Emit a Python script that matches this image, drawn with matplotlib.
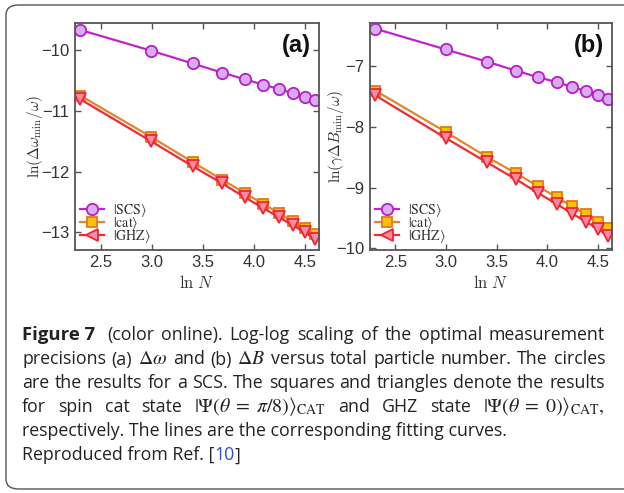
import re
import matplotlib
matplotlib.use("Agg")
import matplotlib.pyplot as plt
from matplotlib.lines import Line2D
from matplotlib.patches import FancyBboxPatch

# ---- data ----
lnN = [2.303, 2.996, 3.401, 3.689, 3.912, 4.094, 4.248, 4.382, 4.500, 4.605]
x_ticks = [2.5, 3.0, 3.5, 4.0, 4.5]

a_scs = [-9.67, -10.01, -10.22, -10.37, -10.48, -10.57, -10.64, -10.71, -10.77, -10.82]
a_cat = [-10.75, -11.43, -11.84, -12.13, -12.35, -12.53, -12.68, -12.81, -12.93, -13.03]
a_ghz = [-10.81, -11.50, -11.91, -12.19, -12.42, -12.60, -12.75, -12.88, -13.00, -13.10]
a_yticks = [-10, -11, -12, -13]

b_scs = [-6.38, -6.72, -6.92, -7.07, -7.18, -7.26, -7.34, -7.41, -7.47, -7.53]
b_cat = [-7.40, -8.08, -8.49, -8.76, -8.98, -9.16, -9.31, -9.44, -9.56, -9.67]
b_ghz = [-7.48, -8.18, -8.58, -8.86, -9.09, -9.27, -9.43, -9.56, -9.68, -9.80]
b_yticks = [-7, -8, -9, -10]

labels = [r'$|\mathrm{SCS}\rangle$', r'$|\mathrm{cat}\rangle$', r'$|\mathrm{GHZ}\rangle$']

caption_lines = [
    '(color online). Log-log scaling of the optimal measurement',
    r'precisions (a) $\Delta\omega$ and (b) $\Delta B$ versus total particle number. The circles',
    'are the results for a SCS. The squares and triangles denote the results',
    r'for spin cat state $|\Psi(\theta\;=\;\pi/8)\rangle_{\mathrm{CAT}}$ and GHZ state $|\Psi(\theta\;=\;0)\rangle_{\mathrm{CAT}},$',
    'respectively. The lines are the corresponding fitting curves.',
]

plt.rcParams['mathtext.fontset'] = 'cm'

W, H = 624, 493
fig = plt.figure(figsize=(W / 100, H / 100), dpi=100)

# outer rounded box
box = FancyBboxPatch((6 / W, 4 / H), 640 / W, 484 / H,
                     boxstyle="round,pad=0,rounding_size=0.02",
                     transform=fig.transFigure, fill=False,
                     edgecolor='#555555', linewidth=1.0, clip_on=False)
fig.patches.append(box)

styles = [
    dict(color='#c024cc', marker='o', mfc='#d9abf2', mec='#b51fc6', ms=8.2),
    dict(color='#e3862a', marker='s', mfc='#f7c10a', mec='#e07a1c', ms=7.2),
    dict(color='#f22a35', marker='v', mfc='#f78aa6', mec='#ef2530', ms=8.2),
]


def panel(rect, ys, yticks, ylim, ylabel, tag, ylab_off):
    ax = fig.add_axes(rect)
    for y, st in zip(ys, styles):
        ax.plot(lnN, y, lw=1.6, markeredgewidth=1.3, **st)
    ax.set_xlim(2.25, 4.64)
    ax.set_ylim(*ylim)
    ax.set_xticks(x_ticks)
    ax.set_xticklabels([f"{t:.1f}" for t in x_ticks])
    ax.set_yticks(yticks)
    ax.set_yticklabels([f"\u2212{abs(t)}" for t in yticks])
    ax.tick_params(direction='in', top=True, right=True, length=4, width=1,
                   color='#555555', labelsize=12, labelcolor='#333333', pad=4)
    for s in ax.spines.values():
        s.set_color('#555555')
        s.set_linewidth(1.3)
    for lab in ax.get_xticklabels() + ax.get_yticklabels():
        lab.set_family('Liberation Sans')
    ax.set_xlabel(r'$\mathrm{ln}\ N$', fontsize=12, color='#333333', labelpad=3)
    ax.set_ylabel(ylabel, fontsize=11, color='#333333', va='center')
    ax.yaxis.set_label_coords(-ylab_off / (rect[2] * W), 0.5)
    ax.text(0.965, 0.95, tag, transform=ax.transAxes, ha='right', va='top',
            fontsize=17, fontweight='bold', family='Liberation Sans', color='#111111')
    handles = []
    for st, lab in zip(styles, labels):
        s2 = dict(st)
        if s2['marker'] == 'v':
            s2['marker'] = '<'
        handles.append(Line2D([], [], lw=1.6, markeredgewidth=1.3, label=lab, **s2))
    leg = ax.legend(handles=handles, loc='lower left', frameon=False, fontsize=10,
                    handlelength=1.75, handletextpad=0.65, labelspacing=-0.3,
                    borderaxespad=0.15, borderpad=0.2)
    for t in leg.get_texts():
        t.set_math_fontfamily('stix')
        t.set_color('#333333')
    return ax


top_px, bot_px = 22.7, 249.5
panel([75 / W, (H - bot_px) / H, 244 / W, (bot_px - top_px) / H],
      [a_scs, a_cat, a_ghz], a_yticks, (-13.28, -9.55),
      r'$\mathrm{ln}(\Delta\omega_{\mathrm{min}}/\omega)$', '(a)', 40)
panel([370 / W, (H - bot_px) / H, 242 / W, (bot_px - top_px) / H],
      [b_scs, b_cat, b_ghz], b_yticks, (-10.02, -6.28),
      r'$\mathrm{ln}(\gamma\Delta B_{\mathrm{min}}/\omega)$', '(b)', 34)

# ---- caption ----
cap_font = 'Open Sans'
col = '#222222'
baselines = [340, 364.5, 388.5, 412.5, 436.5, 460.5]
x_left, x_right = 22, 605

fig.canvas.draw()
r = fig.canvas.get_renderer()

# font size so that line 5 matches the reference width
probe = fig.text(0, 0, caption_lines[4], fontsize=10, family=cap_font)
pw = probe.get_window_extent(r).width
probe.remove()
fs = 10 * 484 / pw
probe = fig.text(0, 0, 'Figure 7', fontsize=10, family=cap_font, fontweight='bold')
bw = probe.get_window_extent(r).width
probe.remove()
fs_b = 10 * 73 / bw


def fy(p):
    return 1 - p / H


def put(x, yb, s, **kw):
    size = kw.pop('fontsize', fs)
    if '$' in s:
        size = size * 1.12
    t = fig.text(x / W, fy(yb), s, fontsize=size, family=cap_font,
                 va='baseline', color=kw.pop('color', col),
                 math_fontfamily='stix', **kw)
    return t, t.get_window_extent(r).width


def justify(line, x0, x1, yb):
    words = re.findall(r'\$[^$]*\$[^\s]*|[^\s$]+\$[^$]*\$[^\s]*|\S+', line)
    ts, widths = [], []
    for w in words:
        t, wd = put(0, yb, w)
        ts.append(t)
        widths.append(wd)
    gap = (x1 - x0 - sum(widths)) / (len(words) - 1)
    x = x0
    for t, wd in zip(ts, widths):
        t.set_x(x / W)
        x += wd + gap


tb, wb = put(x_left, baselines[0], 'Figure 7', fontweight='bold', fontsize=fs_b)
justify(caption_lines[0], 107, x_right, baselines[0])
for i in range(1, 4):
    justify(caption_lines[i], x_left, x_right, baselines[i])
put(x_left, baselines[4], caption_lines[4])
t1, w1 = put(x_left, baselines[5], 'Reproduced from Ref. [')
t2, w2 = put(x_left + w1, baselines[5], '10', color='#2b4fd6')
put(x_left + w1 + w2, baselines[5], ']')

fig.savefig('out.png', dpi=100)
